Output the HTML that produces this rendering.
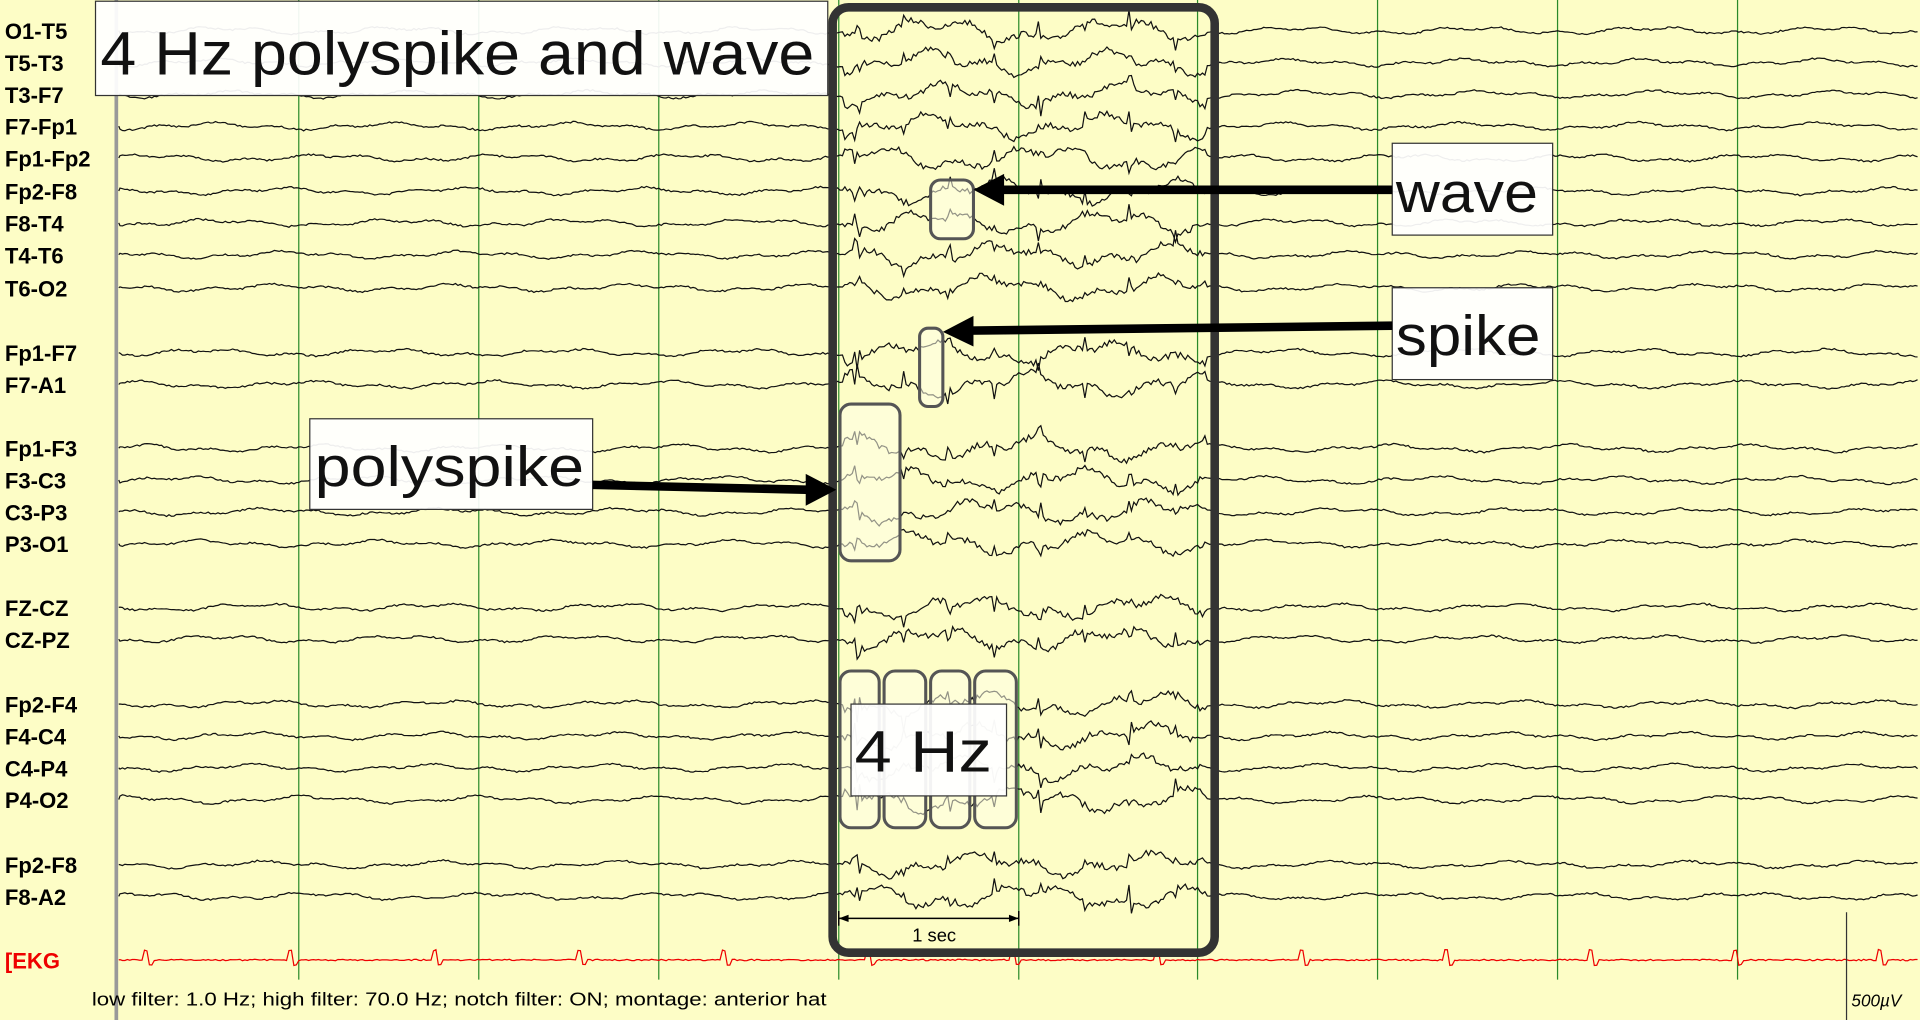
<!DOCTYPE html>
<html><head><meta charset="utf-8"><style>
html,body{margin:0;padding:0;background:#ffffc4;overflow:hidden}
svg{display:block}
</style></head><body>
<svg id="s" width="1920" height="1020" viewBox="0 0 1568 833" xmlns="http://www.w3.org/2000/svg">
<rect width="1568" height="833" fill="#fdfdc6"/>
<g id="grid"></g>
<g id="traces" fill="none" stroke="#111" stroke-width="1"></g>
<g font-family="Liberation Sans, sans-serif" font-weight="bold" font-size="18" fill="#000" id="labels"></g>
<rect x="680" y="6" width="312" height="772" rx="13" fill="none" stroke="#333" stroke-width="7"/>
<g fill="#ffffe8" fill-opacity="0.55" stroke="#555" stroke-width="2.5">
<rect x="760" y="147" width="35" height="48" rx="8"/>
<rect x="751" y="268" width="19" height="64" rx="7"/>
<rect x="686" y="330" width="49" height="128" rx="9"/>
<rect x="686" y="548" width="32" height="128" rx="9"/>
<rect x="722" y="548" width="34" height="128" rx="9"/>
<rect x="760" y="548" width="32" height="128" rx="9"/>
<rect x="796" y="548" width="34" height="128" rx="9"/>
</g>
<g fill="#fff" fill-opacity="0.93" stroke="#333" stroke-width="1">
<rect x="78" y="1" width="598" height="77"/>
<rect x="1137" y="117" width="131" height="75"/>
<rect x="1137" y="235" width="131" height="75"/>
<rect x="253" y="342" width="231" height="74"/>
<rect x="695" y="575" width="127" height="75"/>
</g>
<g font-family="Liberation Sans, sans-serif" fill="#111">
<text x="82" y="61" font-size="50" textLength="583" lengthAdjust="spacingAndGlyphs">4 Hz polyspike and wave</text>
<text x="1140" y="173" font-size="46" textLength="116" lengthAdjust="spacingAndGlyphs">wave</text>
<text x="1140" y="290" font-size="46" textLength="118" lengthAdjust="spacingAndGlyphs">spike</text>
<text x="257" y="397" font-size="46" textLength="220" lengthAdjust="spacingAndGlyphs">polyspike</text>
<text x="698" y="630" font-size="48" textLength="112" lengthAdjust="spacingAndGlyphs">4 Hz</text>
</g>
<g stroke="#000" stroke-width="7">
<line x1="1137" y1="155" x2="815" y2="155"/>
<line x1="1137" y1="266" x2="790" y2="270"/>
<line x1="484" y1="396" x2="662" y2="400"/>
</g>
<g fill="#000">
<polygon points="795,155 820,142 820,168"/>
<polygon points="770,271 795,258 795,283"/>
<polygon points="683,400 658,387 658,413"/>
</g>
<g stroke="#000" stroke-width="1.2"><line x1="685" y1="750" x2="832" y2="750"/><line x1="685" y1="744" x2="685" y2="756"/><line x1="832" y1="744" x2="832" y2="756"/></g>
<polygon points="685,750 693,747 693,753"/><polygon points="832,750 824,747 824,753"/>
<text x="745" y="769" font-family="Liberation Sans, sans-serif" font-size="15">1 sec</text>
<text x="75" y="821" font-family="Liberation Sans, sans-serif" font-size="15" textLength="600" lengthAdjust="spacingAndGlyphs">low filter: 1.0 Hz; high filter: 70.0 Hz; notch filter: ON; montage: anterior hat</text>
<line x1="1508" y1="745" x2="1508" y2="833" stroke="#333" stroke-width="1"/>
<text x="1512" y="822" font-family="Liberation Sans, sans-serif" font-size="14" font-style="italic">500µV</text>
</svg>
<script>
var NS="http://www.w3.org/2000/svg";
function el(t,a,p){var e=document.createElementNS(NS,t);for(var k in a)e.setAttribute(k,a[k]);p.appendChild(e);return e;}
var g=document.getElementById('grid');
el('line',{x1:95,y1:0,x2:95,y2:833,stroke:'#999',"stroke-width":3},g);
[244,391,538,685,832,978,1125,1272,1419].forEach(function(x){el('line',{x1:x,y1:0,x2:x,y2:800,stroke:'#2a8a2a',"stroke-width":1},g);});
var ch=[["O1-T5",25],["T5-T3",51],["T3-F7",77],["F7-Fp1",103],["Fp1-Fp2",129],["Fp2-F8",156],["F8-T4",182],["T4-T6",208],["T6-O2",235],["Fp1-F7",288],["F7-A1",314],["Fp1-F3",366],["F3-C3",392],["C3-P3",418],["P3-O1",444],["FZ-CZ",496],["CZ-PZ",522],["Fp2-F4",575],["F4-C4",601],["C4-P4",627],["P4-O2",653],["Fp2-F8",706],["F8-A2",732]];
var L=document.getElementById('labels'),T=document.getElementById('traces');
var seed=7;function r(){seed=(seed*16807)%2147483647;return seed/2147483647-0.5;}
ch.forEach(function(c,i){
 var t=el('text',{x:4,y:c[1]+7},L);t.textContent=c[0];
 var d="M97 "+c[1],ph1=r()*6,ph2=r()*6;
 for(var x=98;x<=1566;x+=2){
  var a=(x>688&&x<985)?8:2.5;
  var y=c[1]+a*(Math.sin(x*0.043+ph1)*0.8+Math.sin(x*0.13+ph2)*0.5)+r()*(a*0.6);
  if(x>688&&x<985&&Math.abs((x-700)%37)<3)y+=r()*22;
  d+=" L"+x+" "+y.toFixed(1);
 }
 el('path',{d:d},T);
});
var e=el('text',{x:4,y:791,fill:'#e00'},L);e.textContent="[EKG";
var d="M97 784";for(var x=98;x<=1566;x+=2){var y=784+r()*1.2;if(x%118<4)y-=8;else if(x%118<8)y+=4;d+=" L"+x+" "+y.toFixed(1);}
el('path',{d:d,stroke:'#e00'},T);
</script>
</body></html>
